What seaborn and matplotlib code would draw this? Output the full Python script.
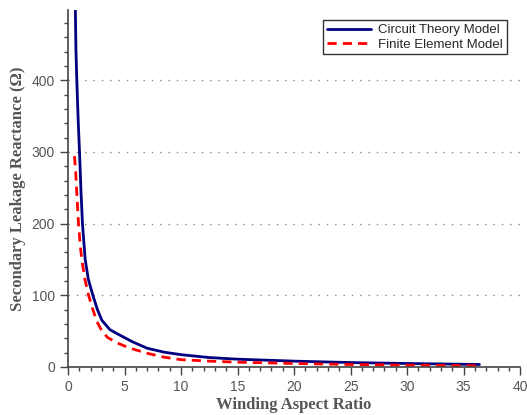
import numpy as np
import matplotlib
matplotlib.use('Agg')
import matplotlib.pyplot as plt
import seaborn as sns
import pandas as pd
from matplotlib.ticker import MultipleLocator

# circuit theory model
ct_x = [0.6, 0.7, 0.78, 0.9, 1.02, 1.15, 1.28, 1.52, 1.8, 2.2, 2.6, 3.0, 3.7,
        4.5, 5.7, 7, 8.5, 10, 12.5, 15, 20, 25, 30, 36.4]
ct_y = [560, 445, 400, 345, 300, 245, 200, 150, 122, 100, 80, 65, 52,
        45, 35, 26, 20.5, 17, 13, 10.7, 8, 6, 4.7, 3.3]

# finite element model
fe_x = [0.57, 0.68, 0.78, 0.93, 1.07, 1.22, 1.5, 1.82, 2.2, 2.56, 3.0, 3.5,
        4.4, 5.5, 7, 8.5, 10, 12.5, 15, 20, 25, 30, 36.4]
fe_y = [294, 272, 242, 200, 172, 150, 122, 100, 80, 63, 50, 41,
        33, 26, 19, 13.5, 10, 8, 6.5, 4.7, 3.3, 2.4, 1.5]

labels = ['Circuit Theory Model', 'Finite Element Model']

df = pd.concat([
    pd.DataFrame({'x': ct_x, 'y': ct_y, 'model': labels[0]}),
    pd.DataFrame({'x': fe_x, 'y': fe_y, 'model': labels[1]}),
])

sns.set_style('ticks')
plt.rcParams['font.family'] = ['Liberation Sans', 'DejaVu Sans']

fig = plt.figure(figsize=(5.27, 4.15), dpi=100)
ax = fig.add_axes([0.129, 0.116, 0.858, 0.86])

sns.lineplot(data=df, x='x', y='y', hue='model', style='model',
             palette=['#000080', '#ff0000'], dashes=[(None, None), (3.3, 2.2)],
             linewidth=2, ax=ax, sort=False)

ax.set_xlim(0, 40)
ax.set_ylim(0, 498)
ax.set_xticks(np.arange(0, 41, 5))
ax.set_yticks([0, 100, 200, 300, 400])
ax.xaxis.set_minor_locator(MultipleLocator(1))
ax.yaxis.set_minor_locator(MultipleLocator(20))

for yv in [100, 200, 300, 400]:
    ax.axhline(yv, color='#888888', linestyle=(0, (1, 5)), linewidth=1, zorder=0)

sns.despine(ax=ax)
for s in ['left', 'bottom']:
    ax.spines[s].set_color('#444444')
    ax.spines[s].set_linewidth(1.2)
ax.tick_params(which='major', length=6, width=1, color='#444444',
               labelcolor='#555555', labelsize=10)
ax.tick_params(which='minor', length=3, width=1, color='#444444')

ax.set_xlabel('Winding Aspect Ratio', family='Liberation Serif',
              fontweight='bold', fontsize=12, color='#555555', labelpad=2)
ax.set_ylabel('Secondary Leakage Reactance (Ω)', family='Liberation Serif',
              fontweight='bold', fontsize=12, color='#555555', labelpad=4)

handles, _ = ax.get_legend_handles_labels()
leg = ax.legend(handles=handles, labels=labels, loc='upper right',
                bbox_to_anchor=(0.985, 0.99), fontsize=9.5, frameon=True,
                fancybox=False, edgecolor='black', handlelength=3.4,
                borderpad=0.3, labelspacing=0.15, handletextpad=0.5)
leg.get_frame().set_linewidth(1)

plt.savefig('out.png', dpi=100)
